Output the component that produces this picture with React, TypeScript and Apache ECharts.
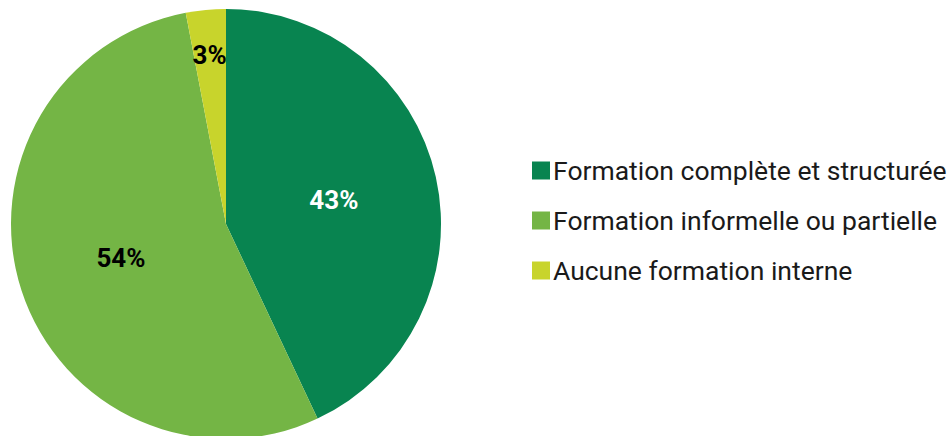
import React, { useEffect, useRef } from "react";
import * as echarts from "echarts";

const categories = [
  "Formation complète et structurée",
  "Formation informelle ou partielle",
  "Aucune formation interne",
];
const values = [43, 54, 3];
const colors = ["#088450", "#74B545", "#C8D42C"];
const labelColors = ["#ffffff", "#000000", "#000000"];

export default function App() {
  const ref = useRef<HTMLDivElement>(null);
  useEffect(() => {
    document.body.style.margin = "0";
    if (!ref.current) return;
    const chart = echarts.init(ref.current, undefined, { renderer: "svg" });
    chart.setOption({
      animation: false,
      legend: {
        orient: "vertical",
        left: 527,
        top: 152,
        icon: "rect",
        itemWidth: 18,
        itemHeight: 18,
        itemGap: 23,
        textStyle: {
          fontFamily: "Roboto",
          fontSize: 26.5,
          color: "#1a1a1a",
          padding: [0, 0, 0, -2],
        },
        data: categories,
      },
      series: [
        {
          type: "pie",
          center: [226, 224],
          radius: 215,
          startAngle: 90,
          clockwise: true,
          avoidLabelOverlap: false,
          label: {
            show: true,
            position: "inside",
            formatter: "{c}%",
            fontFamily: "Roboto",
            fontWeight: "bold",
            fontSize: 26,
          },
          labelLine: { show: false },
          labelLayout: (params: any) =>
            params.dataIndex === 2 ? { dx: -6, dy: -59 } : {},
          emphasis: { disabled: true },
          data: categories.map((name, i) => ({
            name,
            value: values[i],
            itemStyle: { color: colors[i] },
            label: { color: labelColors[i] },
          })),
        },
      ],
    });
    return () => chart.dispose();
  }, []);
  return <div ref={ref} style={{ width: 952, height: 436 }} />;
}
